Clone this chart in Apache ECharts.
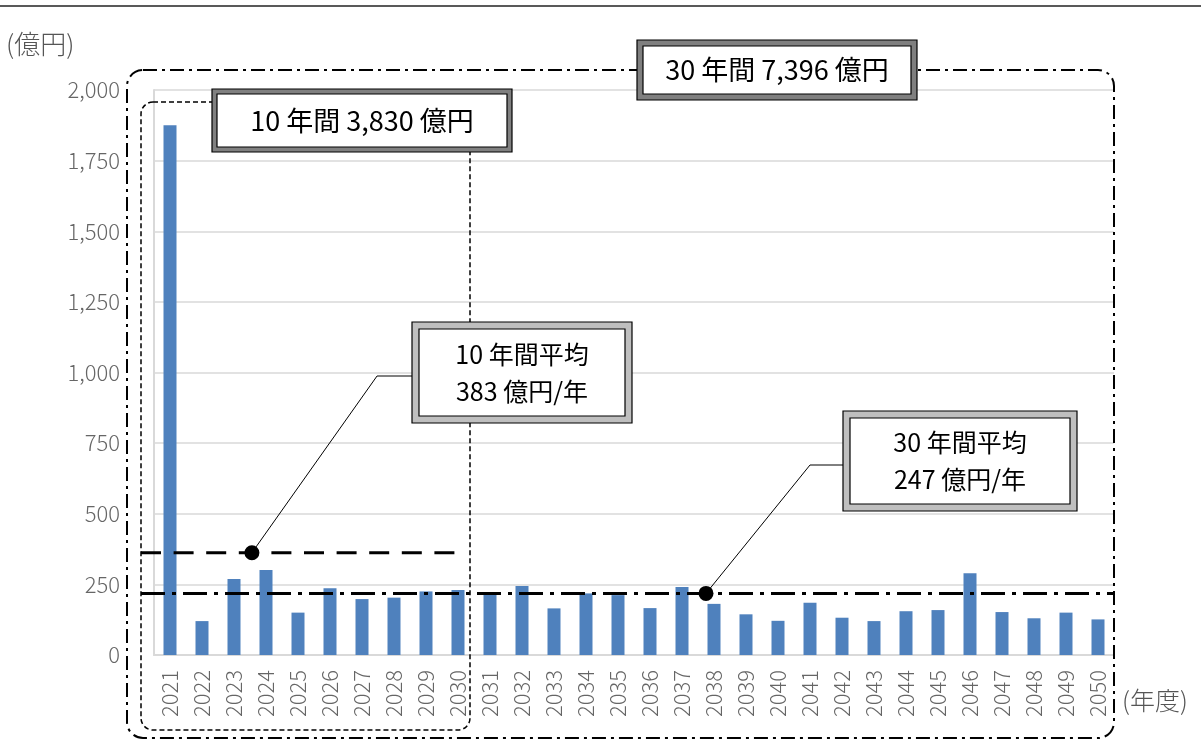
<!DOCTYPE html>
<html>
<head>
<meta charset="utf-8">
<script src="https://cdn.jsdelivr.net/npm/echarts@6/dist/echarts.min.js"></script>
<style>
html,body{margin:0;padding:0;background:#fff;}
#c{width:1201px;height:742px;}
</style>
</head>
<body>
<div id="c"></div>
<script>
// ---- data ----
const years = ['2021','2022','2023','2024','2025','2026','2027','2028','2029','2030',
  '2031','2032','2033','2034','2035','2036','2037','2038','2039','2040',
  '2041','2042','2043','2044','2045','2046','2047','2048','2049','2050'];
const values = [1875,120,269,301,150,236,198,203,225,230,
  222,244,165,218,212,166,241,181,144,121,
  185,132,120,155,159,289,152,130,150,126];
const yTicks = [0,250,500,750,1000,1250,1500,1750,2000];
// level at which the average lines are drawn in the picture
const avgLineLevels = [362, 218];
const totalLabels = ['10 年間 3,830 億円', '30 年間 7,396 億円'];
const avgLabels = [['10 年間平均', '383 億円/年'], ['30 年間平均', '247 億円/年']];
const yUnit = '(億円)';
const xUnit = '(年度)';

const FONT = '"Noto Sans CJK JP", "Noto Sans", sans-serif';
const chart = echarts.init(document.getElementById('c'), null, {renderer: 'canvas'});

const G = {left: 154, right: 87, top: 90, bottom: 87};

chart.setOption({
  animation: false,
  backgroundColor: '#fff',
  grid: {left: G.left, right: G.right, top: G.top, bottom: G.bottom, containLabel: false},
  xAxis: {
    type: 'category',
    data: years,
    axisLine: {show: true, lineStyle: {color: '#d9d9d9', width: 2}},
    axisTick: {show: false},
    axisLabel: {rotate: 90, margin: 15, color: '#666666', fontSize: 22, fontWeight: 300, fontFamily: FONT, interval: 0}
  },
  yAxis: {
    type: 'value',
    min: yTicks[0], max: yTicks[yTicks.length - 1], interval: yTicks[1] - yTicks[0],
    axisLine: {show: true, lineStyle: {color: '#d9d9d9', width: 2}},
    axisTick: {show: false},
    splitLine: {show: true, lineStyle: {color: '#d9d9d9', width: 1.5}},
    axisLabel: {margin: 34, color: '#666666', fontSize: 22, fontWeight: 300, fontFamily: FONT,
      formatter: v => v.toLocaleString('en-US')}
  },
  series: [{
    type: 'bar',
    data: values,
    barWidth: 13,
    itemStyle: {color: '#4f81bd'},
    z: 2
  }]
});

function px(i, v) { return chart.convertToPixel({gridIndex: 0}, [i, v]); }
const x0 = px(0, 0)[0];
const step = px(1, 0)[0] - x0;
const xAt = f => x0 + f * step;
const yAt = v => px(0, v)[1];
const gL = G.left, gR = 1201 - G.right, gT = G.top, gB = 742 - G.bottom;

const y10 = yAt(avgLineLevels[0]);
const y30 = yAt(avgLineLevels[1]);

const els = [];
// top rule
els.push({type: 'line', shape: {x1: 0, y1: 6, x2: 1201, y2: 6}, style: {stroke: '#222', lineWidth: 1.5}, z: 5});
// 30-year dash-dot rounded frame
els.push({type: 'rect', shape: {x: gL - 27, y: gT - 20, width: gR - (gL - 27), height: 668, r: 16},
  style: {fill: null, stroke: '#000', lineWidth: 2, lineDash: [14, 5, 3, 5]}, z: 10});
// 10-year dashed rounded frame
const r10 = xAt(9) + 12;
els.push({type: 'rect', shape: {x: gL - 13, y: gT + 12, width: r10 - (gL - 13), height: 628, r: 12},
  style: {fill: null, stroke: '#000', lineWidth: 1.5, lineDash: [5, 3]}, z: 10});
// average lines
els.push({type: 'line', shape: {x1: gL - 13, y1: y10, x2: xAt(9) + 2, y2: y10},
  style: {stroke: '#000', lineWidth: 3, lineDash: [20, 12.6]}, z: 11});
els.push({type: 'line', shape: {x1: gL - 13, y1: y30, x2: gR, y2: y30},
  style: {stroke: '#000', lineWidth: 3, lineDash: [24, 7, 4, 7]}, z: 11});
// leader lines + dots
const d10 = [xAt(2.56), y10];
const d30 = [xAt(16.75), y30];
els.push({type: 'polyline', shape: {points: [d10, [xAt(6.47), 376], [414, 376]]},
  style: {stroke: '#000', lineWidth: 1, fill: null}, z: 12});
els.push({type: 'polyline', shape: {points: [d30, [810, 465], [845, 465]]},
  style: {stroke: '#000', lineWidth: 1, fill: null}, z: 12});
els.push({type: 'circle', shape: {cx: d10[0], cy: d10[1], r: 7.5}, style: {fill: '#000'}, z: 13});
els.push({type: 'circle', shape: {cx: d30[0], cy: d30[1], r: 7.5}, style: {fill: '#000'}, z: 13});

function box(x, y, w, h, band, bandColor, text, fs, lh) {
  els.push({type: 'rect', shape: {x: x, y: y, width: w, height: h},
    style: {fill: bandColor, stroke: '#000', lineWidth: 1.2}, z: 20});
  els.push({type: 'rect', shape: {x: x + band, y: y + band, width: w - 2 * band, height: h - 2 * band},
    style: {fill: '#fff', stroke: '#000', lineWidth: 1.2}, z: 21});
  els.push({type: 'text', x: x + w / 2, y: y + h / 2,
    style: {text: text, fill: '#000', font: fs + 'px ' + FONT, align: 'center', verticalAlign: 'middle', lineHeight: lh}, z: 22});
}
box(637, 40, 280, 60, 6, '#7f7f7f', totalLabels[1], 27, 30);
box(212, 89, 300, 63, 5, '#808080', totalLabels[0], 27, 30);
box(412, 322, 220, 101, 7, '#bfbfbf', avgLabels[0].join('\n'), 25, 37);
box(843, 411, 234, 100, 7, '#bfbfbf', avgLabels[1].join('\n'), 25, 37);

// unit labels
els.push({type: 'text', x: 6, y: 44, style: {text: yUnit, fill: '#555555', font: '300 26px ' + FONT, align: 'left', verticalAlign: 'middle'}, z: 5});
els.push({type: 'text', x: 1122, y: 700, style: {text: xUnit, fill: '#555555', font: '300 25px ' + FONT, align: 'left', verticalAlign: 'middle'}, z: 5});

chart.setOption({graphic: {elements: els}});
</script>
</body>
</html>
